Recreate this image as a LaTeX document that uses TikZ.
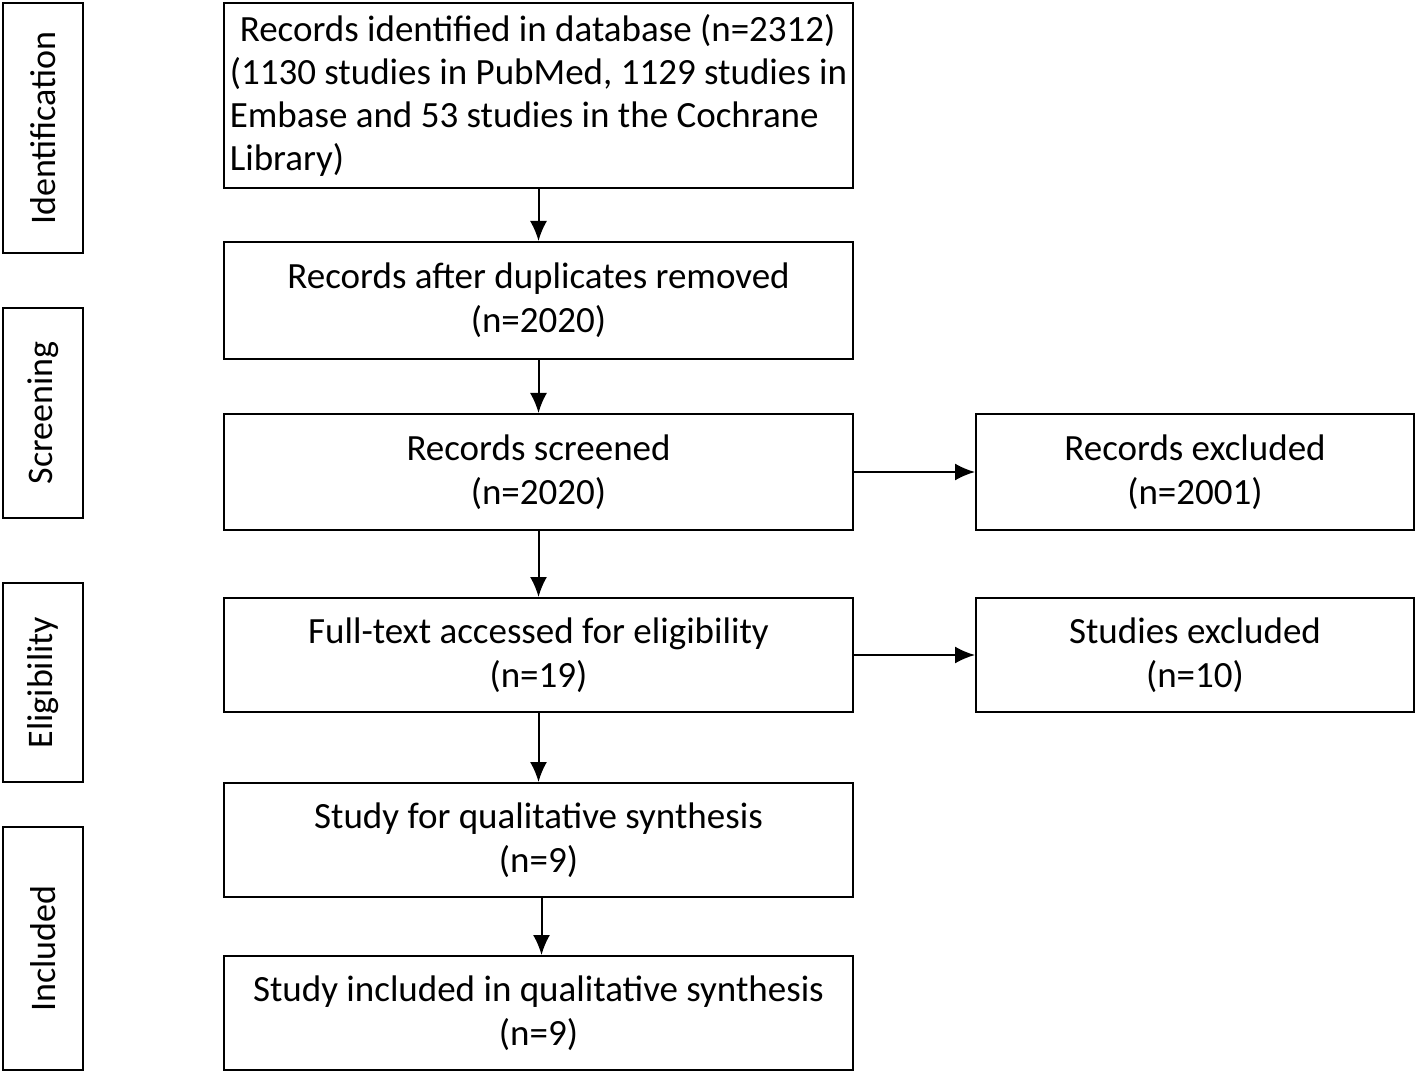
\documentclass[tikz,border=0pt]{standalone}
\usepackage{fontspec}
\setmainfont{Carlito}
\usetikzlibrary{arrows.meta}
\begin{document}
\begin{tikzpicture}[x=0.5pt,y=-0.5pt,
  box/.style={draw,line width=1pt,rectangle,inner sep=0pt,align=center,
    font=\fontsize{18.5}{22}\selectfont},
  side/.style={draw,line width=1pt,rectangle,inner sep=0pt,minimum width=40pt,
    font=\fontsize{18}{22}\selectfont},
  arr/.style={line width=1pt,-{Latex[length=10pt,width=8.5pt]}}]
\useasboundingbox (0,0) rectangle (1418,1074);
% side labels
\node[side,minimum height=125pt] (sid) at (43,128) {\rotatebox{90}{Identification}};
\node[side,minimum height=105pt] (ssc) at (43,413) {\rotatebox{90}{Screening}};
\node[side,minimum height=99.5pt] (sel) at (43,682.5) {\rotatebox{90}{Eligibility}};
\node[side,minimum height=121.5pt] (sin) at (43,948.5) {\rotatebox{90}{Included}};
% main boxes
\node[box,minimum width=314.5pt,minimum height=92.5pt,align=left,font=\fontsize{18.5}{21.5}\selectfont] (b1) at (538.5,95.5)
  {\hspace*{5pt}Records identified in database (n=2312)\\(1130 studies in PubMed, 1129 studies in\\Embase and 53 studies in the Cochrane\\Library)};
\node[box,minimum width=314.5pt,minimum height=58.5pt] (b2) at (538.5,300.5) {Records after duplicates removed\\(n=2020)};
\node[box,minimum width=314.5pt,minimum height=58pt] (b3) at (538.5,472) {Records screened\\(n=2020)};
\node[box,minimum width=314.5pt,minimum height=57pt] (b4) at (538.5,655) {Full-text accessed for eligibility\\(n=19)};
\node[box,minimum width=314.5pt,minimum height=57pt] (b5) at (538.5,840) {Study for qualitative synthesis\\(n=9)};
\node[box,minimum width=314.5pt,minimum height=57pt] (b6) at (538.5,1013) {Study included in qualitative synthesis\\(n=9)};
% right boxes
\node[box,minimum width=219pt,minimum height=58pt] (r1) at (1195,472) {Records excluded\\(n=2001)};
\node[box,minimum width=219pt,minimum height=57pt] (r2) at (1195,655) {Studies excluded\\(n=10)};
% connectors
\draw[arr] (b1) -- (b2);
\draw[arr] (b2) -- (b3);
\draw[arr] (b3) -- (b4);
\draw[arr] (b4) -- (b5);
\draw[arr] ([xshift=1.5pt]b5.south) -- ([xshift=1.5pt]b6.north);
\draw[arr] (b3) -- (r1);
\draw[arr] (b4) -- (r2);
\end{tikzpicture}
\end{document}
